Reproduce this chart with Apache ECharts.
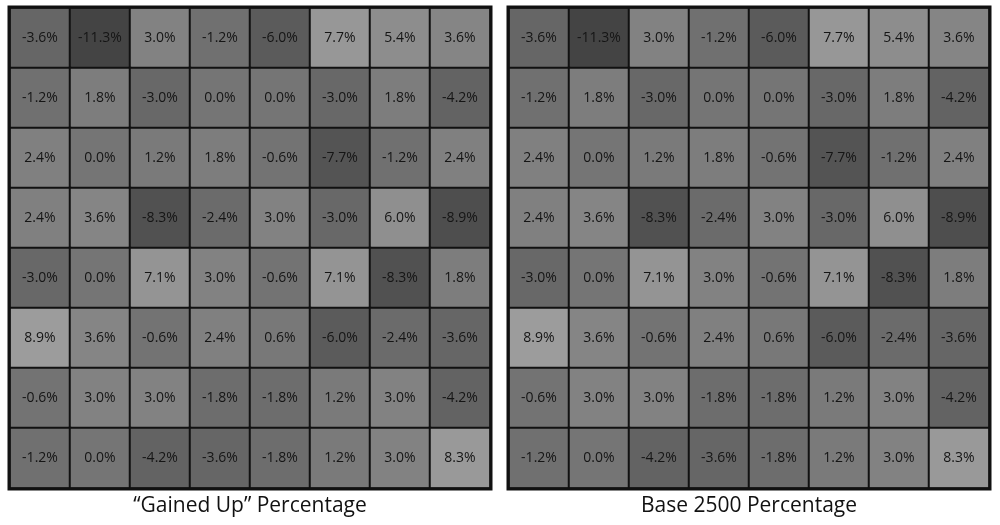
<!DOCTYPE html>
<html><head><meta charset="utf-8">
<script src="https://cdn.jsdelivr.net/npm/echarts@6/dist/echarts.min.js"></script>
<style>html,body{margin:0;padding:0;background:#fff}#c{width:1000px;height:525px}</style>
</head><body><div id="c"></div>
<script>
const cols = ['C1','C2','C3','C4','C5','C6','C7','C8'];
const rows = ['R1','R2','R3','R4','R5','R6','R7','R8'];
const gainedUp = [
  [-3.6,-11.3,3.0,-1.2,-6.0,7.7,5.4,3.6],
  [-1.2,1.8,-3.0,0.0,0.0,-3.0,1.8,-4.2],
  [2.4,0.0,1.2,1.8,-0.6,-7.7,-1.2,2.4],
  [2.4,3.6,-8.3,-2.4,3.0,-3.0,6.0,-8.9],
  [-3.0,0.0,7.1,3.0,-0.6,7.1,-8.3,1.8],
  [8.9,3.6,-0.6,2.4,0.6,-6.0,-2.4,-3.6],
  [-0.6,3.0,3.0,-1.8,-1.8,1.2,3.0,-4.2],
  [-1.2,0.0,-4.2,-3.6,-1.8,1.2,3.0,8.3]
];
const base2500 = [
  [-3.6,-11.3,3.0,-1.2,-6.0,7.7,5.4,3.6],
  [-1.2,1.8,-3.0,0.0,0.0,-3.0,1.8,-4.2],
  [2.4,0.0,1.2,1.8,-0.6,-7.7,-1.2,2.4],
  [2.4,3.6,-8.3,-2.4,3.0,-3.0,6.0,-8.9],
  [-3.0,0.0,7.1,3.0,-0.6,7.1,-8.3,1.8],
  [8.9,3.6,-0.6,2.4,0.6,-6.0,-2.4,-3.6],
  [-0.6,3.0,3.0,-1.8,-1.8,1.2,3.0,-4.2],
  [-1.2,0.0,-4.2,-3.6,-1.8,1.2,3.0,8.3]
];
const titles = ['\u201CGained Up\u201D Percentage', 'Base 2500 Percentage'];

function toData(m){const d=[];m.forEach((r,i)=>r.forEach((v,j)=>d.push([j,i,v])));return d;}
const font = '"Open Sans", "Noto Sans", sans-serif';
const lefts = [10, 509];
const chart = echarts.init(document.getElementById('c'));
const grids = lefts.map(l=>({left:l, top:8, width:480, height:480}));
const xAxes = lefts.map((l,i)=>({type:'category', gridIndex:i, data:cols, show:false}));
const yAxes = lefts.map((l,i)=>({type:'category', gridIndex:i, data:rows, inverse:true, show:false}));
const series = [gainedUp, base2500].map((m,i)=>({
  type:'heatmap', xAxisIndex:i, yAxisIndex:i, data:toData(m),
  itemStyle:{borderColor:'#111', borderWidth:2},
  label:{show:true, formatter:p=>p.value[2].toFixed(1)+'%', color:'#151515', fontSize:14, fontFamily:font},
  emphasis:{disabled:true}
}));
chart.setOption({
  animation:false,
  grid:grids, xAxis:xAxes, yAxis:yAxes,
  visualMap:{show:false, min:-11.3, max:8.9, seriesIndex:[0,1], inRange:{color:['#444444','#9c9c9c']}},
  graphic: [
    {type:'rect', shape:{x:9,y:7,width:482,height:482}, style:{fill:'none', stroke:'#111', lineWidth:3}, z:100},
    {type:'rect', shape:{x:508,y:7,width:482,height:482}, style:{fill:'none', stroke:'#111', lineWidth:3}, z:100},
    {type:'text', x:250, y:506, style:{text:titles[0], font:'21px '+font, fill:'#111', textAlign:'center', textVerticalAlign:'middle'}},
    {type:'text', x:749, y:506, style:{text:titles[1], font:'21px '+font, fill:'#111', textAlign:'center', textVerticalAlign:'middle'}}
  ],
  series:series
});
</script></body></html>
